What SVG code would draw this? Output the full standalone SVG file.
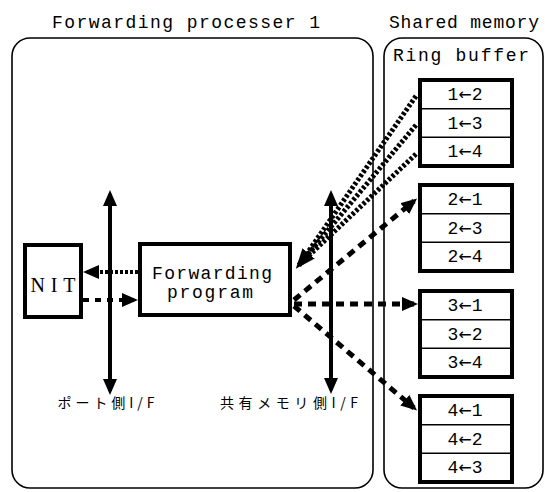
<svg xmlns="http://www.w3.org/2000/svg" width="545" height="492" viewBox="0 0 545 492">
<style>
.mono{font-family:"Liberation Mono","DejaVu Sans Mono",monospace;fill:#000}
.serif{font-family:"Liberation Serif",serif;fill:#000}
.jp{font-family:"Noto Sans CJK JP",sans-serif;fill:#000}
.cell{font-family:"Liberation Mono",monospace;font-size:18px;fill:#000;text-anchor:middle}
.arr{font-family:"DejaVu Sans",sans-serif;font-size:16px}
.cont{fill:none;stroke:#000;stroke-width:1.6}
.box{fill:#fff;stroke:#000;stroke-width:4}
.div{stroke:#000;stroke-width:1.5}
.bar{stroke:#000;stroke-width:4;fill:none}
.dot{stroke:#000;stroke-width:5;stroke-dasharray:3 2;fill:none}
.dash{stroke:#000;stroke-width:5;stroke-dasharray:8 6;fill:none}
.ndot{stroke:#000;stroke-width:4;stroke-dasharray:3 2;fill:none}
.ndash{stroke:#000;stroke-width:4;stroke-dasharray:6 6;fill:none}
</style>
<defs>
<marker id="ah" viewBox="0 0 16 14" refX="12" refY="7" markerWidth="16" markerHeight="14" markerUnits="userSpaceOnUse" orient="auto-start-reverse">
<path d="M0,0 L16,7 L0,14 z" fill="#000"/>
</marker>
<marker id="ahb" viewBox="0 0 20 16" refX="15" refY="8" markerWidth="20" markerHeight="16" markerUnits="userSpaceOnUse" orient="auto">
<path d="M0,0 L20,8 L0,16 z" fill="#000"/>
</marker>
</defs>

<g id="containers">
<rect class="cont" x="12" y="38" width="361" height="450" rx="18"/>
<rect class="cont" x="384" y="38" width="159" height="450" rx="18"/>
<text class="mono" x="186" y="28" font-size="18" text-anchor="middle" textLength="268" lengthAdjust="spacing">Forwarding processer 1</text>
<text class="mono" x="464" y="28" font-size="18" text-anchor="middle" textLength="150" lengthAdjust="spacing">Shared memory</text>
<text class="mono" x="461" y="61" font-size="18" text-anchor="middle" textLength="136" lengthAdjust="spacing">Ring buffer</text>
</g>

<g id="connectors">
<path class="bar" d="M110,194 V391" marker-start="url(#ah)" marker-end="url(#ah)"/>
<path class="bar" d="M331,194 V390" marker-start="url(#ah)" marker-end="url(#ah)"/>
<path class="ndot" d="M138,272 H87" marker-end="url(#ah)"/>
<path class="ndash" d="M83,300 H134" marker-end="url(#ah)"/>
<path class="dot" d="M416,96 L299,265"/>
<path class="dot" d="M416,154 L299,265"/>
<path class="dot" d="M416,125 L299,265" marker-end="url(#ahb)"/>
<path class="dash" d="M294,300 L414,201" marker-end="url(#ah)"/>
<path class="dash" d="M294,304 H414" marker-end="url(#ah)"/>
<path class="dash" d="M294,306 L414,408" marker-end="url(#ah)"/>
</g>

<g id="nit">
<rect class="box" x="25" y="245" width="56" height="72"/>
<text class="serif" x="53" y="292" font-size="20" text-anchor="middle" textLength="45" lengthAdjust="spacing">NIT</text>
</g>

<g id="forwarding-program">
<rect class="box" x="140" y="244" width="150" height="71"/>
<text class="mono" x="212" y="279" font-size="18" text-anchor="middle" textLength="120" lengthAdjust="spacing">Forwarding</text>
<text class="mono" x="210" y="298" font-size="18" text-anchor="middle" textLength="86" lengthAdjust="spacing">program</text>
</g>

<g id="label-port">
<text class="jp" x="106" y="408" font-size="14" text-anchor="middle" textLength="97" lengthAdjust="spacing">ポート側I/F</text>
</g>
<g id="label-shared">
<text class="jp" x="289" y="408" font-size="14" text-anchor="middle" textLength="138" lengthAdjust="spacing">共有メモリ側I/F</text>
</g>

<g id="ring1">
<rect class="box" x="420" y="80" width="92" height="86"/>
<line class="div" x1="420" y1="108.7" x2="512" y2="108.7"/>
<line class="div" x1="420" y1="137.3" x2="512" y2="137.3"/>
<text class="cell" x="465" y="100">1<tspan class="arr">←</tspan>2</text>
<text class="cell" x="465" y="129">1<tspan class="arr">←</tspan>3</text>
<text class="cell" x="465" y="157">1<tspan class="arr">←</tspan>4</text>
</g>
<g id="ring2">
<rect class="box" x="420" y="185" width="92" height="86"/>
<line class="div" x1="420" y1="213.7" x2="512" y2="213.7"/>
<line class="div" x1="420" y1="242.3" x2="512" y2="242.3"/>
<text class="cell" x="465" y="205">2<tspan class="arr">←</tspan>1</text>
<text class="cell" x="465" y="234">2<tspan class="arr">←</tspan>3</text>
<text class="cell" x="465" y="262">2<tspan class="arr">←</tspan>4</text>
</g>
<g id="ring3">
<rect class="box" x="420" y="291" width="92" height="86"/>
<line class="div" x1="420" y1="319.7" x2="512" y2="319.7"/>
<line class="div" x1="420" y1="348.3" x2="512" y2="348.3"/>
<text class="cell" x="465" y="311">3<tspan class="arr">←</tspan>1</text>
<text class="cell" x="465" y="340">3<tspan class="arr">←</tspan>2</text>
<text class="cell" x="465" y="368">3<tspan class="arr">←</tspan>4</text>
</g>
<g id="ring4">
<rect class="box" x="420" y="396" width="92" height="86"/>
<line class="div" x1="420" y1="424.7" x2="512" y2="424.7"/>
<line class="div" x1="420" y1="453.3" x2="512" y2="453.3"/>
<text class="cell" x="465" y="416">4<tspan class="arr">←</tspan>1</text>
<text class="cell" x="465" y="445">4<tspan class="arr">←</tspan>2</text>
<text class="cell" x="465" y="473">4<tspan class="arr">←</tspan>3</text>
</g>
</svg>
